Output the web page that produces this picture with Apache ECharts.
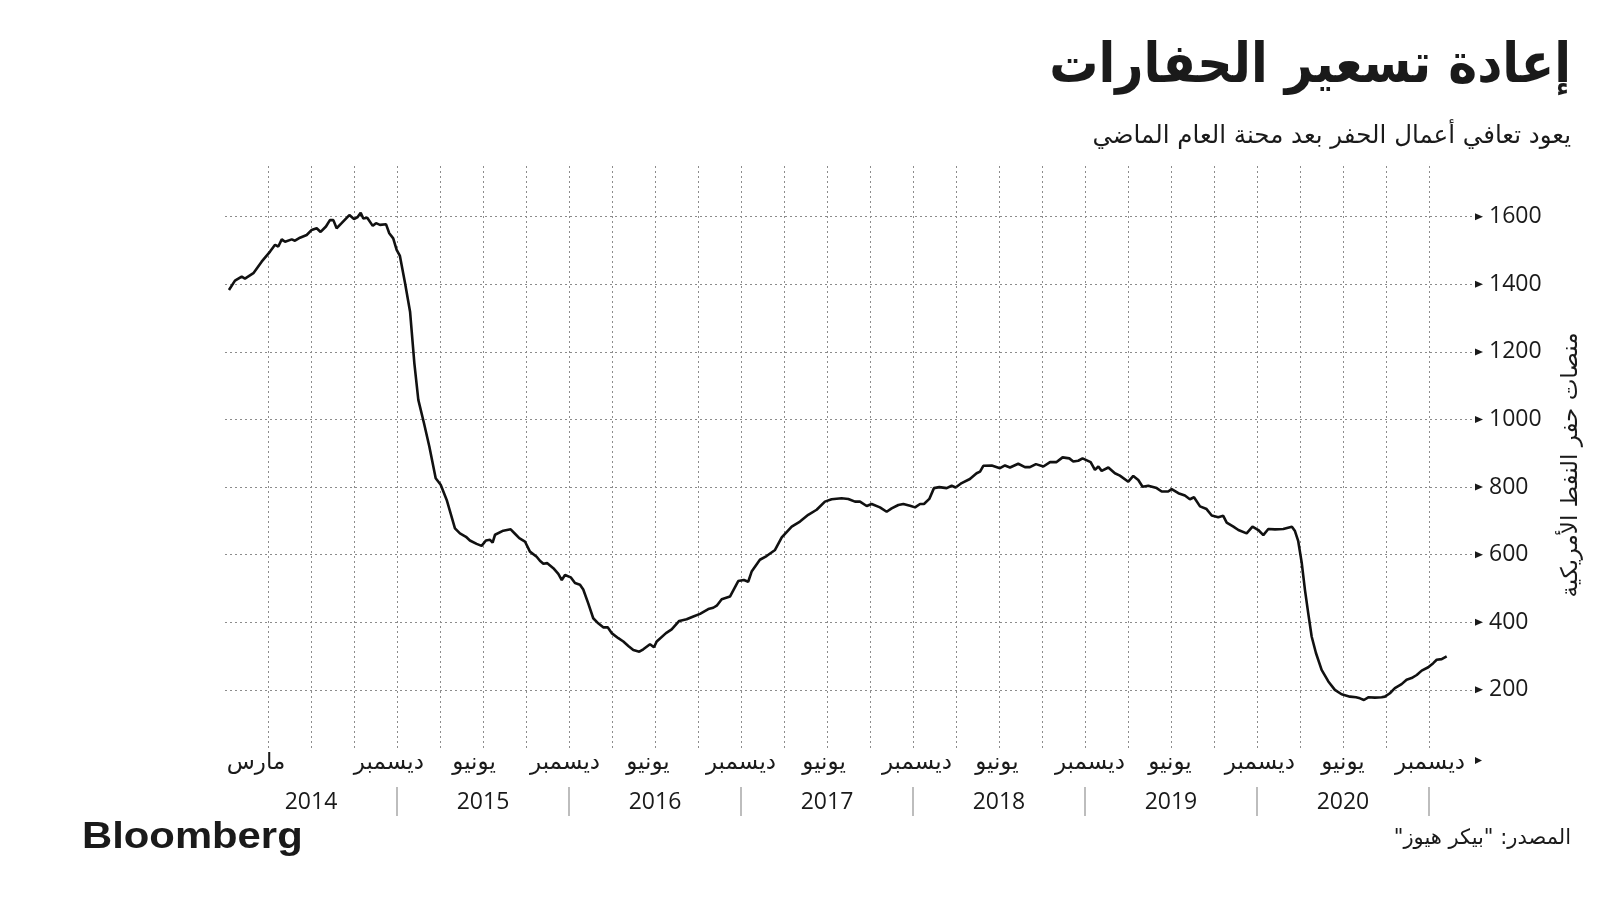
<!DOCTYPE html>
<html><head><meta charset="utf-8">
<script src="https://cdn.jsdelivr.net/npm/echarts@6/dist/echarts.min.js"></script>
<style>html,body{margin:0;padding:0;background:#fff}#c{width:1600px;height:900px}</style>
</head><body><div id="c"></div><script>
// ---- data (decimal years, weekly-ish readings of US oil rig count) ----
const weekPos = [
2014.023,2014.058,2014.097,2014.116,2014.165,2014.213,2014.262,2014.291,2014.310,2014.330,
2014.349,2014.388,2014.407,2014.436,2014.475,2014.504,2014.533,2014.556,2014.587,2014.610,
2014.630,2014.649,2014.678,2014.723,2014.750,2014.769,2014.789,2014.804,2014.827,2014.859,
2014.878,2014.901,2014.936,2014.955,2014.978,2014.998,
2015.017,2015.047,2015.076,2015.101,2015.124,2015.157,2015.188,2015.225,2015.254,2015.289,
2015.337,2015.366,2015.401,2015.424,2015.463,2015.492,2015.517,2015.541,2015.556,2015.570,
2015.618,2015.661,2015.686,2015.711,2015.744,2015.773,2015.812,2015.831,2015.851,2015.874,
2015.909,2015.938,2015.958,2015.977,
2016.010,2016.035,2016.064,2016.083,2016.112,2016.141,2016.170,2016.199,2016.225,2016.248,
2016.287,2016.316,2016.345,2016.374,2016.409,2016.432,2016.471,2016.494,2016.510,2016.564,
2016.597,2016.641,2016.684,2016.723,2016.762,2016.810,2016.839,2016.859,2016.888,2016.936,
2016.984,
2017.017,2017.042,2017.062,2017.110,2017.149,2017.198,2017.237,2017.295,2017.343,2017.391,
2017.440,2017.488,2017.527,2017.585,2017.624,2017.663,2017.692,2017.731,2017.760,2017.808,
2017.847,2017.876,2017.915,2017.944,2017.983,
2018.012,2018.041,2018.064,2018.095,2018.122,2018.153,2018.196,2018.225,2018.248,2018.283,
2018.331,2018.370,2018.390,2018.409,2018.458,2018.506,2018.535,2018.564,2018.612,2018.651,
2018.680,2018.715,2018.758,2018.797,2018.835,2018.870,2018.909,2018.932,2018.961,2018.986,
2019.033,2019.058,2019.078,2019.097,2019.136,2019.174,2019.203,2019.252,2019.281,2019.310,
2019.335,2019.368,2019.417,2019.446,2019.484,2019.504,2019.543,2019.581,2019.610,2019.634,
2019.669,2019.707,2019.737,2019.775,2019.804,2019.824,2019.863,2019.892,2019.940,2019.974,
2020.008,2020.037,2020.066,2020.105,2020.153,2020.203,2020.221,2020.240,2020.260,2020.279,
2020.298,2020.318,2020.343,2020.376,2020.415,2020.453,2020.492,2020.541,2020.576,2020.599,
2020.622,2020.647,2020.686,2020.725,2020.744,2020.773,2020.802,2020.841,2020.870,2020.899,
2020.929,2020.958,2020.996,
2021.025,2021.045,2021.074,2021.103
];
const rigCount = [
1383,1411,1423,1417,1433,1467,1497,1517,1512,1533,
1526,1533,1529,1538,1546,1561,1566,1555,1571,1590,
1590,1566,1581,1605,1593,1598,1612,1595,1597,1573,
1581,1576,1578,1551,1536,1502,
1484,1403,1319,1166,1058,989,920,826,807,762,
678,663,653,642,632,626,642,644,636,659,
671,675,662,649,639,609,594,582,573,575,
560,543,525,540,
533,516,511,497,456,412,397,385,385,368,
353,343,330,318,313,320,335,326,343,368,
379,404,409,417,425,439,443,449,468,476,
522,
525,520,550,585,596,614,651,683,698,718,
733,757,764,767,765,757,757,744,750,740,
727,737,747,750,745,
740,750,750,765,797,800,797,804,799,812,
824,841,846,863,864,856,864,858,869,859,
859,868,861,874,874,888,885,876,878,885,
874,851,861,848,858,841,834,816,833,821,
801,804,797,787,787,794,782,775,764,770,
743,735,716,711,715,695,683,673,663,683,
673,658,676,675,676,683,670,640,577,496,
427,358,309,259,225,200,187,180,178,175,
170,178,177,178,180,190,205,217,230,235,
244,257,267,
279,289,291,299
];
const yTicks = [200,400,600,800,1000,1200,1400,1600];
const monthLabels = ['مارس','ديسمبر','يونيو','ديسمبر','يونيو','ديسمبر','يونيو','ديسمبر','يونيو','ديسمبر','يونيو','ديسمبر','يونيو','ديسمبر'];
const monthLabelPos = [2014.180,2014.953,2015.448,2015.977,2016.459,2017.000,2017.483,2018.023,2018.488,2019.029,2019.494,2020.017,2020.500,2021.006];
const yearLabels = ['2014','2015','2016','2017','2018','2019','2020'];
const yearLabelPos = [2014.5,2015.5,2016.5,2017.5,2018.5,2019.5,2020.5];
const yearBreaks = [2015,2016,2017,2018,2019,2020,2021];
const quarterLines = [];
for (let q = 2014.25; q <= 2021.0001; q += 0.25) quarterLines.push(+q.toFixed(2));

const AR = '"DejaVu Sans", "Noto Sans", sans-serif';
const NUM = '"Open Sans", "Liberation Sans", sans-serif';
const GRID = '#8c8c8c';
const X_MIN = 2014, X_MAX = 2021.291;

function nearestIdx(arr, v){let b=0,d=1e9;arr.forEach((a,i)=>{const dd=Math.abs(a-v);if(dd<d){d=dd;b=i;}});return b;}

const chart = echarts.init(document.getElementById('c'), null, {renderer:'canvas'});
chart.setOption({
  animation:false,
  backgroundColor:'#fff',
  grid:{left:225,right:121,top:163,bottom:152},
  xAxis:[
    {type:'value',min:X_MIN,max:X_MAX,axisLine:{show:false},axisTick:{show:false},splitLine:{show:false},
     axisLabel:{customValues:monthLabelPos,formatter:(v)=>monthLabels[nearestIdx(monthLabelPos,v)],
       fontFamily:AR,fontSize:23,color:'#1a1a1a',margin:4}},
    {type:'value',min:X_MIN,max:X_MAX,position:'bottom',offset:39,axisLine:{show:false},splitLine:{show:false},
     axisTick:{show:true,customValues:yearBreaks,length:29,inside:false,lineStyle:{color:'#a8a8a8',width:1.5}},
     axisLabel:{customValues:yearLabelPos,formatter:(v)=>yearLabels[nearestIdx(yearLabelPos,v)],
       fontFamily:NUM,fontSize:23,color:'#1a1a1a',margin:4}}
  ],
  yAxis:{type:'value',min:28,max:1759,show:false},
  series:[
    {type:'line',data:[],silent:true,
     markLine:{silent:true,animation:false,symbol:'none',
       lineStyle:{type:[2,3],color:GRID,width:1},
       label:{show:true,position:'end',formatter:'{c}',distance:10,fontFamily:NUM,fontSize:23,color:'#1a1a1a'},
       data:yTicks.map(v=>({yAxis:v}))}},
    {type:'line',data:[],silent:true,
     markLine:{silent:true,animation:false,symbol:['none','triangle'],symbolSize:[7,8],
       lineStyle:{type:'solid',color:'#1a1a1a',width:1},label:{show:false},
       data:yTicks.map(v=>[{coord:[X_MAX-0.004,v]},{coord:[X_MAX,v]}])}},
    {type:'line',data:[],silent:true,
     markLine:{silent:true,animation:false,symbol:'none',label:{show:false},
       lineStyle:{type:[2,3],color:GRID,width:1},
       data:quarterLines.map(v=>({xAxis:v}))}},
    {type:'line',data:weekPos.map((x,i)=>[x,rigCount[i]]),showSymbol:false,symbol:'none',z:5,
     lineStyle:{color:'#111',width:2.6},silent:true}
  ],
  graphic:[
    {type:'text',x:1571,y:68,scaleY:1.12,style:{text:'إعادة تسعير الحفارات',font:'bold 49px '+AR,fill:'#1a1a1a',textAlign:'right',textVerticalAlign:'middle'}},
    {type:'text',x:1571,y:137,style:{text:'يعود تعافي أعمال الحفر بعد محنة العام الماضي',font:'24.5px '+AR,fill:'#1a1a1a',textAlign:'right',textVerticalAlign:'middle'}},
    {type:'text',x:1571,y:465,rotation:Math.PI/2,style:{text:'منصات حفر النفط الأمريكية',font:'23px '+AR,fill:'#1a1a1a',textAlign:'center',textVerticalAlign:'middle'}},
    {type:'text',x:1571,y:839,style:{text:'\u200Fالمصدر: "بيكر هيوز"\u200F',font:'21px '+AR,fill:'#1a1a1a',textAlign:'right',textVerticalAlign:'middle'}},
    {type:'text',x:82,y:838,scaleX:1.13,style:{text:'Bloomberg',font:'bold 37px "Liberation Sans", Arial, sans-serif',fill:'#1a1a1a',textAlign:'left',textVerticalAlign:'middle'}},
    {type:'polygon',shape:{points:[[1475,757],[1482,760.5],[1475,764]]},style:{fill:'#1a1a1a'}}
  ]
});
</script></body></html>
